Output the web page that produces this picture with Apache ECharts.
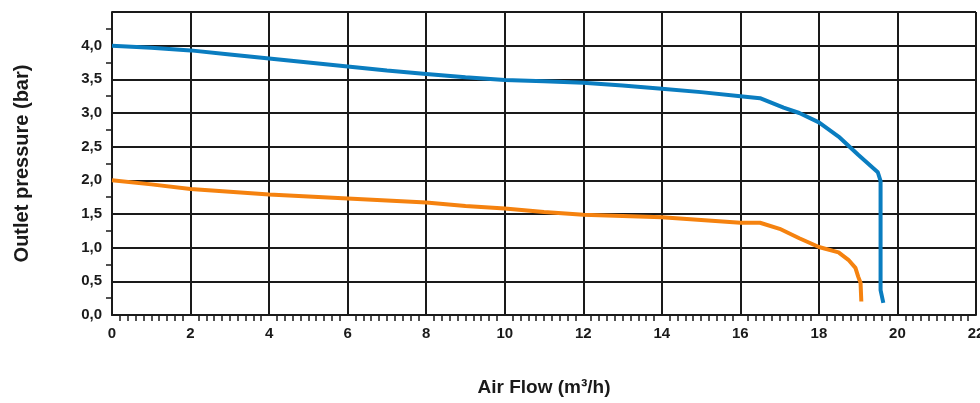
<!DOCTYPE html>
<html>
<head>
<meta charset="utf-8">
<script src="https://cdn.jsdelivr.net/npm/echarts@6/dist/echarts.min.js"></script>
<style>html,body{margin:0;padding:0;background:#fff}#c{width:980px;height:403px}</style>
</head>
<body>
<div id="c"></div>
<script>
// Data
var xTicks = [0,2,4,6,8,10,12,14,16,18,20,22];
var yTicks = [0,0.5,1,1.5,2,2.5,3,3.5,4,4.5];
var blueX = [0,1,2,3,4,5,6,7,8,9,10,11,12,13,14,15,16,16.5,17.1,17.5,18,18.5,19,19.5,19.57,19.57,19.64];
var blueY = [4.0,3.97,3.93,3.87,3.81,3.75,3.69,3.63,3.58,3.53,3.49,3.47,3.45,3.41,3.36,3.31,3.25,3.22,3.08,3.0,2.86,2.65,2.38,2.12,1.99,0.37,0.18];
var orangeX = [0,1,2,3,4,5,6,7,8,9,10,11,12,13,14,15,16,16.5,17,17.5,18,18.5,18.75,18.93,19.0,19.06,19.08];
var orangeY = [2.0,1.94,1.87,1.83,1.79,1.76,1.73,1.70,1.67,1.62,1.58,1.53,1.49,1.47,1.45,1.41,1.37,1.37,1.28,1.14,1.01,0.93,0.82,0.70,0.57,0.48,0.2];

function pairs(xs, ys){ return xs.map(function(x,i){ return [x, ys[i]]; }); }
var FONT = "'Liberation Sans Narrow','Liberation Sans',Arial,sans-serif";
var chart = echarts.init(document.getElementById('c'));
chart.setOption({
  animation:false,
  grid:{left:112,right:4,top:12,bottom:88,containLabel:false,outerBoundsMode:'none'},
  xAxis:{
    type:'value', min:xTicks[0], max:xTicks[xTicks.length-1], interval:2,
    name:'Air Flow (m³/h)', nameLocation:'middle', nameGap:63,
    nameTextStyle:{fontFamily:FONT,fontWeight:'bold',fontSize:19,color:'#1a1a1a'},
    axisLine:{show:true,onZero:false,lineStyle:{color:'#1a1a1a',width:2}},
    axisTick:{show:false},
    minorTick:{show:true,splitNumber:10,length:6,lineStyle:{color:'#1a1a1a',width:1.5}},
    axisLabel:{fontFamily:FONT,fontWeight:'bold',fontSize:15,color:'#1a1a1a',margin:11,showMaxLabel:true,hideOverlap:false},
    splitLine:{show:true,lineStyle:{color:'#1a1a1a',width:2}}
  },
  yAxis:{
    type:'value', min:yTicks[0], max:yTicks[yTicks.length-1], interval:0.5,
    name:'Outlet pressure (bar)', nameLocation:'middle', nameGap:80, nameRotate:90,
    nameTextStyle:{fontFamily:FONT,fontWeight:'bold',fontSize:20,color:'#1a1a1a'},
    axisLine:{show:true,lineStyle:{color:'#1a1a1a',width:2}},
    axisTick:{show:false},
    minorTick:{show:true,splitNumber:2,length:6,lineStyle:{color:'#1a1a1a',width:1.5}},
    axisLabel:{fontFamily:FONT,fontWeight:'bold',fontSize:15,color:'#1a1a1a',margin:10,
      formatter:function(v){ return v>=4.5 ? '' : v.toFixed(1).replace('.',','); }},
    splitLine:{show:true,lineStyle:{color:'#1a1a1a',width:2}}
  },
  series:[
    {type:'line',data:pairs(blueX,blueY),showSymbol:false,lineStyle:{color:'#0a7dc0',width:4},z:5},
    {type:'line',data:pairs(orangeX,orangeY),showSymbol:false,lineStyle:{color:'#f5820f',width:4},z:5}
  ]
});
</script>
</body>
</html>
